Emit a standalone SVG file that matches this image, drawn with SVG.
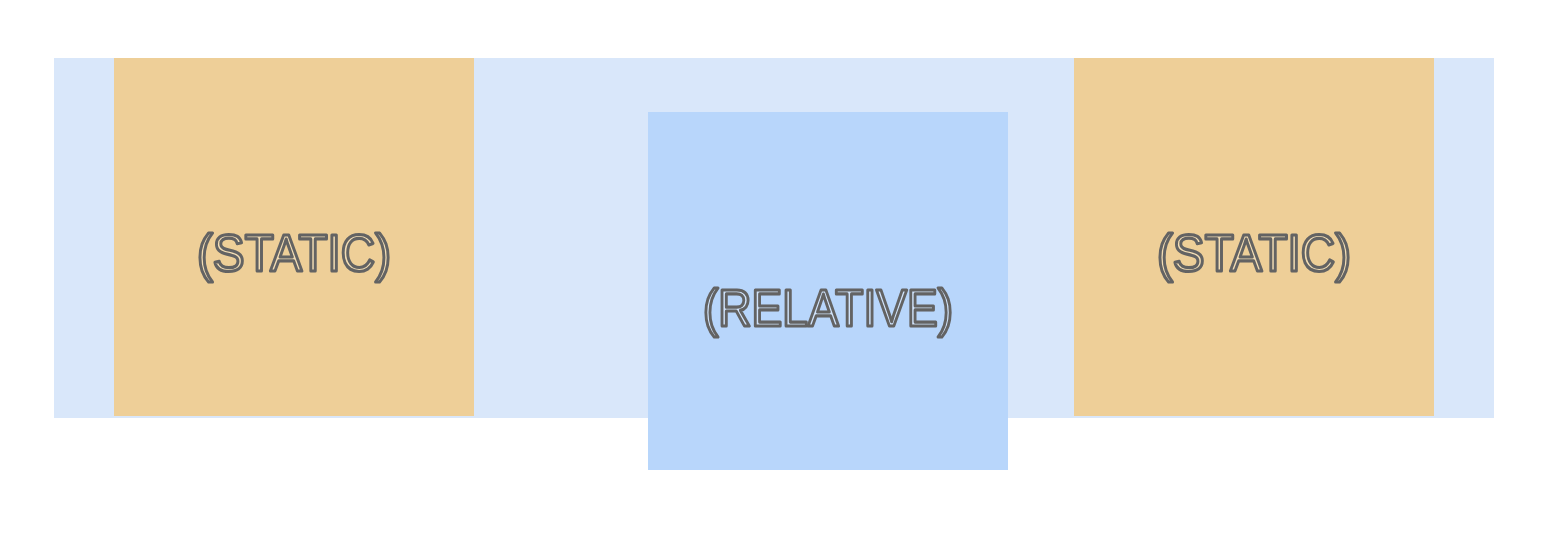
<svg xmlns="http://www.w3.org/2000/svg" width="1564" height="534" viewBox="0 0 1564 534">
<style>
.lbl{font-family:"Liberation Sans",Arial,sans-serif;font-size:52px;stroke:#636363;stroke-width:3.2;stroke-linejoin:round;text-anchor:middle}
.st{fill:#f3ddb4}
.re{fill:#d0e3fb}
</style>
<rect width="1564" height="534" fill="#fff"/>
<g id="container"><rect x="54" y="58" width="1440" height="360" fill="#d9e7fa"/></g>
<g id="static1"><rect x="114" y="58" width="360" height="358" fill="#eecf98"/>
<text class="lbl st" x="294" y="271" textLength="194" lengthAdjust="spacingAndGlyphs">(STATIC)</text></g>
<g id="relative"><rect x="648" y="112" width="360" height="358" fill="#b8d6fb"/>
<text class="lbl re" x="828" y="326" textLength="250" lengthAdjust="spacingAndGlyphs">(RELATIVE)</text></g>
<g id="static2"><rect x="1074" y="58" width="360" height="358" fill="#eecf98"/>
<text class="lbl st" x="1254" y="271" textLength="194" lengthAdjust="spacingAndGlyphs">(STATIC)</text></g>
<g id="connectors"/>
</svg>
